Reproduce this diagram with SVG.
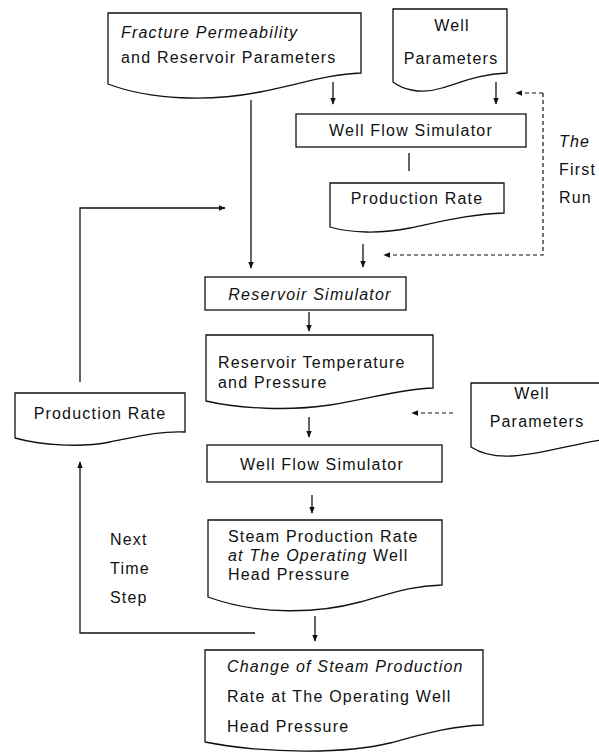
<svg xmlns="http://www.w3.org/2000/svg" width="599" height="754" viewBox="0 0 599 754">
<style>
.box{fill:#fff;stroke:#111;stroke-width:1.3}
.ln{fill:none;stroke:#111;stroke-width:1.3}
.dash{fill:none;stroke:#111;stroke-width:1.2;stroke-dasharray:4 3}
text{font-family:"Liberation Sans",Arial,sans-serif;font-size:16px;fill:#111;letter-spacing:1.2px}
.it{font-style:italic}
.mid{text-anchor:middle}
</style>
<defs>
<marker id="ah" viewBox="0 0 10 10" refX="9" refY="5" markerWidth="7" markerHeight="7" markerUnits="userSpaceOnUse" orient="auto">
<path d="M0,1 L10,5 L0,9 Z" fill="#111"/>
</marker>
</defs>
<rect width="599" height="754" fill="#fff"/>

<g id="connectors">
<line class="ln" x1="333" y1="82" x2="333" y2="104" marker-end="url(#ah)"/>
<line class="ln" x1="496" y1="82" x2="496" y2="104" marker-end="url(#ah)"/>
<line class="ln" x1="409" y1="153" x2="409" y2="171"/>
<line class="ln" x1="363" y1="244" x2="363" y2="267" marker-end="url(#ah)"/>
<line class="ln" x1="251" y1="100" x2="251" y2="268" marker-end="url(#ah)"/>
<polyline class="ln" points="80,382 80,208 225,208" marker-end="url(#ah)"/>
<polyline class="dash" points="543,93 543,255 384,255" marker-end="url(#ah)"/>
<line class="dash" x1="543" y1="93" x2="516" y2="93" marker-end="url(#ah)"/>
<line class="ln" x1="309" y1="312" x2="309" y2="331" marker-end="url(#ah)"/>
<line class="dash" x1="453" y1="413" x2="412" y2="413" marker-end="url(#ah)"/>
<line class="ln" x1="309" y1="417" x2="309" y2="437" marker-end="url(#ah)"/>
<line class="ln" x1="312" y1="495" x2="312" y2="513" marker-end="url(#ah)"/>
<polyline class="ln" points="255,633 80,633 80,462" marker-end="url(#ah)"/>
<line class="ln" x1="315" y1="616" x2="315" y2="641" marker-end="url(#ah)"/>
</g>

<g id="fracture-params">
<path class="box" d="M108,13 H361 V73 C330,74 300,84 260,92 C210,102 150,100 108,84 Z"/>
<text x="121" y="38" class="it">Fracture Permeability</text>
<text x="121" y="63">and Reservoir Parameters</text>
</g>

<g id="well-params-top">
<path class="box" d="M393,9 H507 V73 C480,74 462,82 442,88 C420,95 402,89 393,82 Z"/>
<text x="452" y="31" class="mid">Well</text>
<text x="451" y="64" class="mid">Parameters</text>
</g>

<g id="well-flow-top">
<rect class="box" x="296" y="114" width="230" height="33"/>
<text x="411" y="136" class="mid">Well Flow Simulator</text>
</g>

<g id="production-rate-top">
<path class="box" d="M330,183 H504 V213 C470,214 440,222 410,228 C380,234 350,233 330,227 Z"/>
<text x="417" y="204" class="mid">Production Rate</text>
</g>

<g id="first-run-label">
<text x="559" y="147" class="it">The</text>
<text x="559" y="175">First</text>
<text x="559" y="203">Run</text>
</g>

<g id="reservoir-simulator">
<rect class="box" x="205" y="277" width="201" height="33"/>
<text x="310" y="300" class="mid it">Reservoir Simulator</text>
</g>

<g id="reservoir-temp">
<path class="box" d="M206,335 H433 V388 C400,389 370,399 330,405 C290,411 240,409 206,401 Z"/>
<text x="218" y="368">Reservoir Temperature</text>
<text x="218" y="388">and Pressure</text>
</g>

<g id="well-params-right">
<path class="box" d="M601,383 H471 V447 C480,453 492,457 512,456 C545,454 572,444 601,440"/>
<text x="532" y="399" class="mid">Well</text>
<text x="537" y="427" class="mid">Parameters</text>
</g>

<g id="production-rate-left">
<path class="box" d="M15,393 H185 V432 C160,431 140,436 110,442 C80,448 40,445 15,438 Z"/>
<text x="100" y="419" class="mid">Production Rate</text>
</g>

<g id="well-flow-bottom">
<rect class="box" x="207" y="445" width="235" height="37"/>
<text x="322" y="470" class="mid">Well Flow Simulator</text>
</g>

<g id="steam-rate">
<path class="box" d="M208,520 H442 V585 C410,586 390,594 360,602 C320,613 260,616 208,597 Z"/>
<text x="228" y="542">Steam Production Rate</text>
<text x="228" y="561"><tspan class="it">at The Operating</tspan> Well</text>
<text x="228" y="580">Head Pressure</text>
</g>

<g id="next-time-step">
<text x="110" y="545">Next</text>
<text x="110" y="574">Time</text>
<text x="110" y="603">Step</text>
</g>

<g id="change-steam-rate">
<path class="box" d="M205,650 H483 V725 C450,726 420,735 390,743 C350,753 270,755 205,742 Z"/>
<text x="227" y="672" class="it">Change of Steam Production</text>
<text x="227" y="702">Rate at The Operating Well</text>
<text x="227" y="732">Head Pressure</text>
</g>
</svg>
